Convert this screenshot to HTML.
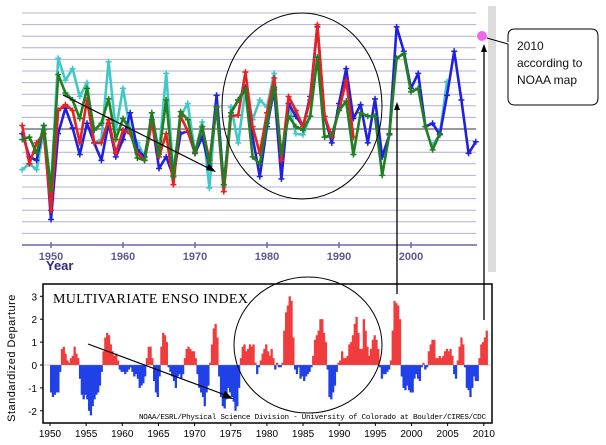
<!DOCTYPE html>
<html><head><meta charset="utf-8"><style>
html,body{margin:0;padding:0;background:#fff;}
svg{display:block;font-family:"Liberation Sans",sans-serif;}
</style></head><body>
<svg id="s" width="606" height="445" viewBox="0 0 606 445">
<rect x="0" y="0" width="606" height="445" fill="#fff"/>
<rect x="488" y="6" width="8" height="266" fill="#dcdcdc"/>
<g id="topg"></g>
<g id="bot"></g>
<g id="ann">
<ellipse cx="302" cy="106" rx="80" ry="93" fill="none" stroke="#000" stroke-width="1"/>
<ellipse cx="308" cy="345" rx="74" ry="68" fill="none" stroke="#000" stroke-width="1"/>
<line x1="63" y1="95" x2="212" y2="170" stroke="#000" stroke-width="1.2"/>
<polygon points="216,172 206,170 209,164" fill="#000"/>
<line x1="88" y1="344" x2="228" y2="396" stroke="#000" stroke-width="1.2"/>
<polygon points="233,399 222,398 225,391" fill="#000"/>
<line x1="397" y1="294" x2="397" y2="108" stroke="#000" stroke-width="1.3"/>
<polygon points="397,102 394,110 400,110" fill="#000"/>
<line x1="484" y1="320" x2="484" y2="50" stroke="#000" stroke-width="1.3"/>
<polygon points="484,44 481,52 487,52" fill="#000"/>
<circle cx="482" cy="36" r="5" fill="#ee66ee"/>
<path d="M487,38 L508,44 L508,98 Q508,105 515,105 L591,105 Q598,105 598,98 L598,36 Q598,29 591,29 L515,29 Q508,29 508,36 L508,42" fill="#fff" stroke="#000" stroke-width="1"/>
<text x="517" y="50" font-size="12" fill="#111">2010</text>
<text x="517" y="67" font-size="12" fill="#111">according to</text>
<text x="517" y="84" font-size="12" fill="#111">NOAA map</text>
</g>
</svg>
<script>
const years = [];
for (let y = 1946; y <= 2009; y++) years.push(y);
const blue = [-0.04,-0.24,-0.27,0.03,-0.78,-0.04,0.18,0.01,-0.22,0.05,-0.12,-0.27,0.05,-0.24,-0.09,0.14,-0.18,-0.24,0.08,-0.34,-0.24,-0.41,-0.04,-0.02,-0.21,-0.07,-0.32,0.29,-0.48,0.14,0.25,0.36,-0.07,-0.41,0.02,0.34,-0.43,0.22,0.11,0.02,
 0.28,0.88,0.11,-0.12,0.22,0.52,0.09,0.21,-0.12,0.26,-0.24,-0.05,0.88,0.67,0.35,0.48,0.02,0.05,-0.05,0.29,0.67,0.25,-0.21,-0.11];
const red = [0.03,-0.30,-0.12,-0.04,-0.70,0.16,0.21,0.16,-0.12,0.25,-0.12,-0.12,0.08,-0.21,-0.01,-0.04,-0.21,-0.27,0.05,-0.24,-0.04,-0.48,0.11,-0.02,-0.20,0.02,-0.27,0.19,-0.54,0.11,0.12,0.49,0.02,-0.21,0.14,0.44,-0.27,0.28,0.16,0.02,
 0.25,0.90,0.11,-0.07,0.16,0.42,-0.07];
const green = [-0.09,-0.07,-0.21,0.03,-0.53,0.47,0.31,0.25,0.09,0.35,-0.01,0.05,0.26,-0.09,0.09,-0.01,-0.25,-0.27,0.14,-0.22,0.25,-0.41,0.15,0.08,-0.21,0.02,-0.30,0.19,-0.48,0.14,0.25,0.34,-0.24,-0.30,0.05,0.36,-0.21,0.11,0.02,-0.01,
 0.11,0.62,-0.07,-0.05,0.16,0.24,-0.22,0.14,0.11,0.11,-0.40,-0.04,0.61,0.65,0.32,0.35,0.02,-0.18,-0.04];
const cyan = [-0.35,-0.30,-0.35,-0.01,-0.50,0.61,0.42,0.52,0.28,0.40,-0.12,-0.09,0.58,-0.01,0.35,-0.01,-0.12,-0.24,0.14,-0.21,0.48,-0.38,0.11,0.22,-0.21,0.06,-0.51,0.29,-0.50,0.19,-0.12,0.34,0.08,0.25,0.19,0.48,-0.27,0.22,-0.04,-0.05,
 0.11,0.62,-0.07,-0.07,0.16,0.24,-0.22,null,null,null,null,null,null,null,null,null,null,-0.14,-0.05,0.41];
const topTicks = [1950,1960,1970,1980,1990,2000];

// ENSO: quarterly values starting 1950.0
const mei = [-1.2,-1.4,-1.3,-1.2, -1.2,-0.3,0.7,0.8, 0.5,0.2,0.1,0.3, 0.4,0.8,0.5,0.3, -0.6,-1.3,-1.5,-1.3,
-1.5,-2.0,-2.2,-1.8, -1.5,-1.3,-1.2,-0.9, -0.3,0.6,1.2,1.4, 1.3,0.9,0.6,0.4, 0.5,0.2,-0.2,-0.3,
-0.3,-0.4,-0.3,-0.2, -0.1,-0.3,-0.5,-0.4, -0.6,-1.0,-0.9,-0.8, -0.5,0.3,0.8,0.8, 0.3,-0.7,-1.2,-1.4,
-0.5,0.8,1.4,1.3, 1.0,-0.1,-0.3,-0.5, -0.7,-1.0,-0.5,-0.4, -0.6,-0.4,0.3,0.7, 0.8,0.7,0.6,0.6,
0.3,-0.4,-1.0,-1.2, -1.4,-1.8,-1.2,-0.9, 0.1,0.9,1.6,1.8, 1.2,-0.5,-1.4,-1.8, -1.9,-1.5,-1.0,-1.2,
-1.4,-1.6,-2.0,-1.8, -1.0,0.3,0.8,0.9, 0.6,0.7,0.9,0.8, 0.9,0.1,-0.4,-0.1, 0.2,0.5,0.7,0.9,
0.6,0.4,0.7,0.3, -0.2,0.1,-0.1,-0.1, 0.1,1.5,2.3,2.6, 3.0,2.8,1.2,-0.2, -0.4,-0.1,-0.6,-0.5,
-0.7,-0.5,-0.4,-0.3, -0.1,0.4,1.1,1.3, 1.5,2.0,2.0,1.4, 1.0,-0.2,-1.4,-1.5, -1.2,-0.9,-0.3,0.1,
0.2,0.6,0.3,0.3, 0.4,0.9,1.0,1.3, 1.8,2.1,1.4,0.7, 0.7,2.0,1.5,0.8, 0.4,0.7,1.1,1.3,
1.1,0.7,-0.1,-0.6, -0.4,-0.4,-0.3,-0.2, 0.2,1.5,2.8,2.7, 2.6,2.0,-0.5,-1.0, -1.1,-0.9,-1.1,-1.2,
-1.2,-0.6,-0.4,-0.6, -0.7,-0.1,0.1,-0.2, -0.1,0.6,0.9,1.1, 1.1,0.3,0.3,0.4, 0.3,0.4,0.6,0.7,
0.6,0.7,0.4,-0.4, -0.6,0.2,0.8,1.2, 0.9,-0.1,-1.0,-1.1, -1.4,-1.0,-0.5,-0.7, -0.7,0.3,0.9,1.0,
1.2,1.5];
const meiTicksX = [1950,1955,1960,1965,1970,1975,1980,1985,1990,1995,2000,2005,2010];
const meiTicksY = [-2,-1,0,1,2,3];

const NS = "http://www.w3.org/2000/svg";
function mk(parent, tag, attrs) { const e = document.createElementNS(NS, tag); for (const k in attrs) e.setAttribute(k, attrs[k]); parent.appendChild(e); return e; }

// ---- top chart
const topG = document.getElementById('topg');
const tx = yr => 51 + 7.2 * (yr - 1950);
const ty = v => 129 - v * 116;
for (let i = 0; i < 20; i++) {
  const y = 13 + i * 11.6;
  const l = mk(topG, 'line', {x1: 22, x2: 476, y1: y, y2: y, stroke: i === 10 ? '#333' : '#b0b0cc', 'stroke-width': 1});
  
  
}
const ax = mk(topG, 'line', {x1: 22, x2: 477, y1: 245, y2: 245, stroke: '#6868a8', 'stroke-width': 1.5});


topTicks.forEach(t => {
  const tk = mk(topG, 'line', {x1: tx(t), x2: tx(t), y1: 242, y2: 248, stroke: '#6868a8', 'stroke-width': 1.5});
  
  
  const lb = mk(topG, 'text', {x: tx(t), y: 260, 'text-anchor': 'middle', 'font-size': 11, 'font-weight': 'bold', fill: '#5a5a90'});
  lb.textContent = t;
  
  
});
const yl = mk(topG, 'text', {x: 46, y: 270, 'font-size': 13, 'font-weight': 'bold', fill: '#2a2a80'});
yl.textContent = 'Year';



function series(vals, color, name) {
  const g = mk(topG, 'g', {});
  
  
  let d = '', pen = false;
  vals.forEach((v, i) => {
    if (v === null || v === undefined) { pen = false; return; }
    d += (pen ? 'L' : 'M') + tx(years[i]).toFixed(1) + ',' + ty(v).toFixed(1);
    pen = true;
  });
  mk(g, 'path', {d: d, fill: 'none', stroke: color, 'stroke-width': 2.6, 'stroke-linejoin': 'round'});
  vals.forEach((v, i) => {
    if (v === null || v === undefined) return;
    const x = tx(years[i]), y = ty(v);
    const m = mk(g, 'path', {d: `M${x-3},${y}H${x+3}M${x},${y-3}V${y+3}`, stroke: color, 'stroke-width': 1.5});
    
    
  });
}
series(cyan, '#40c8c8', 'series-cyan');
series(blue, '#2020e0', 'series-blue');
series(red, '#e82020', 'series-red');
series(green, '#208020', 'series-green');

// ---- bottom chart
const bot = document.getElementById('bot');
const bx = yr => 50 + 7.23 * (yr - 1950);
const by = v => 365 - 22.9 * v;
for (let i = 0; i < mei.length; i++) {
  const v = mei[i], x = bx(1950 + i / 4);
  const r = mk(bot, 'rect', {x: x.toFixed(2), y: Math.min(by(v), by(0)).toFixed(2), width: 2.3, height: Math.abs(by(v) - by(0)).toFixed(2), fill: v >= 0 ? '#f03c3c' : '#2040e8'});
  
  
}
const fr = mk(bot, 'rect', {x: 43, y: 284, width: 449, height: 139, fill: 'none', stroke: '#000', 'stroke-width': 1.5});


meiTicksY.forEach(t => {
  const tk = mk(bot, 'line', {x1: 40, x2: 43, y1: by(t), y2: by(t), stroke: '#000'});
  
  
  const lb = mk(bot, 'text', {x: 37, y: by(t) + 4, 'text-anchor': 'end', 'font-size': 10, fill: '#000'});
  lb.textContent = t;
  
  
});
meiTicksX.forEach(t => {
  const tk = mk(bot, 'line', {x1: bx(t), x2: bx(t), y1: 423, y2: 426, stroke: '#000'});
  
  
  const lb = mk(bot, 'text', {x: bx(t), y: 437, 'text-anchor': 'middle', 'font-size': 10, fill: '#000'});
  lb.textContent = t;
  
  
});
const z = mk(bot, 'line', {x1: 43, x2: 492, y1: by(0), y2: by(0), stroke: '#888', 'stroke-width': 0.5});


const tt = mk(bot, 'text', {x: 53, y: 303, 'font-size': 14, fill: '#000', 'font-family': '"Liberation Serif",serif', 'letter-spacing': '0.3'});
tt.textContent = 'MULTIVARIATE ENSO INDEX';


const ft = mk(bot, 'text', {x: 486, y: 419, 'text-anchor': 'end', 'font-size': 7.6, fill: '#000', 'font-family': '"Liberation Mono",monospace', textLength: 347});
ft.textContent = 'NOAA/ESRL/Physical Science Division - University of Colorado at Boulder/CIRES/CDC';


const yt = mk(bot, 'text', {x: 0, y: 0, 'text-anchor': 'middle', 'font-size': 11, fill: '#000', transform: 'translate(15,358) rotate(-90)', 'letter-spacing': '0.5'});
yt.textContent = 'Standardized Departure';


</script>
</body></html>
